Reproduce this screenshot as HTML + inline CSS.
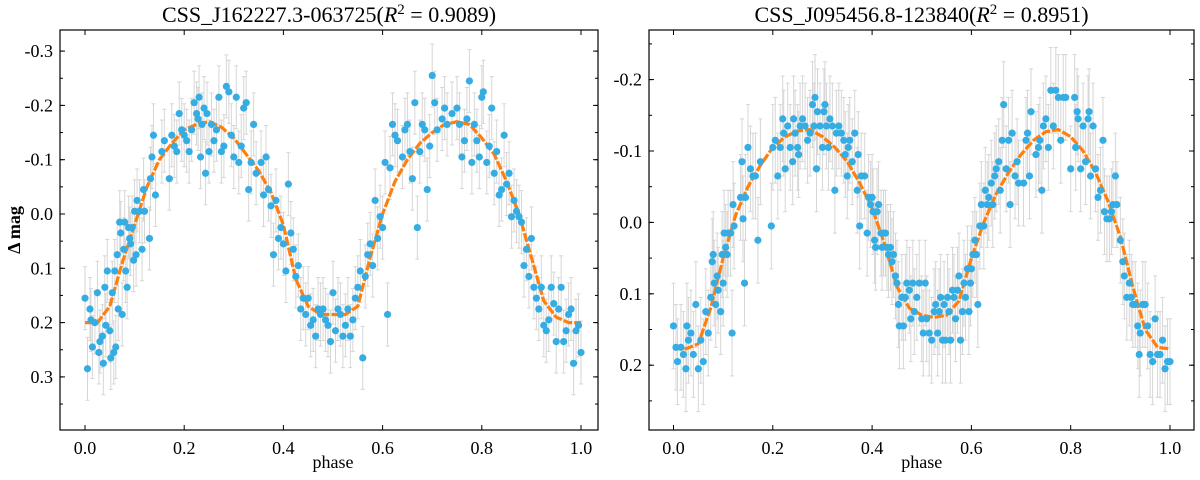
<!DOCTYPE html>
<html><head><meta charset="utf-8"><style>
body{margin:0;background:#fff;}
svg text{font-family:"Liberation Serif",serif;fill:#000;}
</style></head><body>
<svg id="chart" width="1200" height="475" viewBox="0 0 1200 475" xmlns="http://www.w3.org/2000/svg"></svg>
<script>
const xTicks=[0,0.2,0.4,0.6,0.8,1.0];
const xTickLabels=["0.0","0.2","0.4","0.6","0.8","1.0"];
const leftTitle="CSS_J162227.3-063725";
const leftR2="0.9089";
const leftYTicks=[-0.3,-0.2,-0.1,0,0.1,0.2,0.3];
const leftYTickLabels=["-0.3","-0.2","-0.1","0.0","0.1","0.2","0.3"];
const leftPhase=[0,0.005,0.01,0.012,0.015,0.02,0.025,0.028,0.03,0.035,0.037,0.04,0.042,0.045,0.05,0.052,0.055,0.058,0.06,0.062,0.065,0.067,0.07,0.072,0.075,0.078,0.08,0.082,0.085,0.088,0.09,0.092,0.095,0.098,0.1,0.103,0.105,0.11,0.115,0.118,0.12,0.13,0.132,0.135,0.138,0.142,0.155,0.16,0.17,0.175,0.18,0.185,0.19,0.195,0.2,0.205,0.21,0.215,0.22,0.225,0.228,0.23,0.233,0.236,0.24,0.243,0.246,0.25,0.255,0.26,0.265,0.27,0.275,0.28,0.285,0.29,0.295,0.3,0.305,0.31,0.315,0.32,0.325,0.33,0.335,0.34,0.345,0.355,0.36,0.365,0.37,0.375,0.38,0.385,0.39,0.395,0.4,0.405,0.41,0.415,0.42,0.425,0.43,0.435,0.44,0.445,0.45,0.455,0.46,0.465,0.47,0.475,0.48,0.485,0.49,0.495,0.5,0.505,0.51,0.515,0.52,0.525,0.53,0.535,0.54,0.545,0.55,0.555,0.56,0.565,0.57,0.575,0.58,0.585,0.59,0.595,0.6,0.605,0.61,0.615,0.62,0.625,0.63,0.64,0.645,0.65,0.655,0.66,0.665,0.67,0.675,0.68,0.685,0.69,0.695,0.7,0.705,0.71,0.72,0.725,0.73,0.74,0.75,0.755,0.76,0.765,0.77,0.775,0.78,0.785,0.79,0.795,0.8,0.803,0.81,0.815,0.82,0.825,0.83,0.835,0.84,0.845,0.85,0.855,0.86,0.865,0.87,0.875,0.88,0.885,0.89,0.895,0.9,0.905,0.91,0.915,0.92,0.925,0.93,0.935,0.94,0.945,0.95,0.955,0.96,0.965,0.97,0.975,0.98,0.985,0.99,0.995,1.0];
const leftMag=[0.155,0.285,0.175,0.195,0.245,0.2,0.145,0.255,0.235,0.225,0.275,0.135,0.205,0.105,0.215,0.265,0.145,0.255,0.105,0.245,0.075,0.175,0.015,0.035,0.185,0.065,0.015,0.105,0.135,0.025,0.045,0.055,0.025,0.085,-0.005,0.075,-0.025,-0.005,0.065,-0.045,-0.005,0.045,-0.065,-0.105,-0.145,-0.035,-0.115,-0.135,-0.065,-0.145,-0.125,-0.115,-0.185,-0.155,-0.145,-0.135,-0.115,-0.155,-0.205,-0.185,-0.175,-0.215,-0.105,-0.165,-0.195,-0.075,-0.185,-0.115,-0.165,-0.135,-0.155,-0.215,-0.115,-0.125,-0.235,-0.225,-0.145,-0.105,-0.215,-0.095,-0.125,-0.195,-0.205,-0.045,-0.095,-0.165,-0.075,-0.095,-0.035,-0.105,-0.045,-0.015,0.075,-0.025,0.045,0.025,0.055,0.105,-0.055,0.035,0.065,0.115,0.095,0.175,0.155,0.185,0.155,0.205,0.195,0.225,0.175,0.185,0.175,0.195,0.205,0.235,0.145,0.215,0.175,0.185,0.225,0.205,0.175,0.225,0.195,0.155,0.135,0.105,0.265,0.115,0.075,0.055,0.095,-0.025,0.045,0.005,0.025,-0.095,0.185,-0.085,-0.165,-0.145,-0.135,-0.105,-0.155,-0.165,-0.115,-0.065,-0.205,0.025,-0.115,-0.165,-0.155,-0.045,-0.125,-0.255,-0.205,-0.155,-0.175,-0.195,-0.165,-0.185,-0.195,-0.165,-0.105,-0.135,-0.175,-0.245,-0.095,-0.165,-0.135,-0.105,-0.215,-0.225,-0.095,-0.125,-0.195,-0.075,-0.115,-0.035,-0.045,-0.145,-0.055,-0.075,0.005,-0.025,-0.005,0.005,0.015,0.095,0.065,0.115,0.045,0.135,0.155,0.175,0.135,0.205,0.215,0.195,0.135,0.165,0.235,0.175,0.135,0.235,0.215,0.185,0.175,0.275,0.215,0.205,0.255];
const leftErr=0.058;
const leftFitPhase=[0,0.025,0.05,0.075,0.1,0.125,0.15,0.175,0.2,0.225,0.25,0.275,0.3,0.325,0.35,0.375,0.4,0.425,0.45,0.475,0.5,0.525,0.55,0.575,0.6,0.625,0.65,0.675,0.7,0.725,0.75,0.775,0.8,0.825,0.85,0.875,0.9,0.925,0.95,0.975,1.0];
const leftFitMag=[0.2,0.2,0.17,0.09,0.02,-0.05,-0.1,-0.13,-0.155,-0.165,-0.17,-0.16,-0.14,-0.11,-0.08,-0.04,0.02,0.12,0.17,0.185,0.185,0.185,0.17,0.08,0,-0.06,-0.1,-0.13,-0.15,-0.165,-0.17,-0.165,-0.14,-0.11,-0.06,0,0.08,0.16,0.19,0.2,0.2];

const rightTitle="CSS_J095456.8-123840";
const rightR2="0.8951";
const rightYTicks=[-0.2,-0.1,0,0.1,0.2];
const rightYTickLabels=["-0.2","-0.1","0.0","0.1","0.2"];
const rightPoints=[
[0.000,0.145],[0.005,0.175],[0.008,0.195],[0.015,0.175],[0.020,0.185],[0.025,0.205],[0.027,0.145],[0.030,0.165],[0.035,0.155],[0.040,0.185],
[0.045,0.115],[0.050,0.205],[0.055,0.165],[0.060,0.195],[0.065,0.125],[0.070,0.155],[0.075,0.105],[0.078,0.055],[0.080,0.045],[0.082,0.085],
[0.085,0.115],[0.088,0.075],[0.090,0.095],[0.095,0.125],[0.098,0.045],[0.100,0.085],[0.102,0.015],[0.105,0.035],[0.108,0.045],[0.110,0.015],
[0.115,0.015],[0.118,0.155],[0.120,-0.025],[0.122,0.005],[0.135,-0.035],[0.138,-0.085],[0.140,-0.005],[0.143,0.085],[0.145,-0.035],[0.150,-0.105],
[0.155,-0.075],[0.160,-0.065],[0.165,-0.065],[0.170,0.025],[0.175,-0.085],[0.197,0.005],[0.200,-0.105],[0.205,-0.115],[0.210,-0.065],[0.215,-0.105],
[0.220,-0.145],[0.222,-0.125],[0.225,-0.075],[0.230,-0.135],[0.235,-0.105],[0.240,-0.085],[0.242,-0.145],[0.245,-0.125],[0.250,-0.105],[0.252,-0.095],
[0.255,-0.135],[0.260,-0.145],[0.265,-0.135],[0.270,-0.115],[0.275,-0.125],[0.280,-0.165],[0.283,-0.135],[0.285,-0.175],[0.288,-0.075],[0.290,-0.155],
[0.295,-0.135],[0.300,-0.105],[0.303,-0.155],[0.305,-0.165],[0.308,-0.135],[0.312,-0.105],[0.315,-0.145],[0.320,-0.135],[0.325,-0.045],[0.328,-0.125],
[0.333,-0.135],[0.338,-0.125],[0.343,-0.115],[0.346,-0.095],[0.350,-0.065],[0.352,-0.105],[0.355,-0.115],[0.360,-0.085],[0.365,-0.125],[0.370,-0.045],
[0.372,-0.095],[0.375,0.005],[0.378,-0.065],[0.385,-0.065],[0.390,0.015],[0.393,-0.035],[0.397,-0.025],[0.400,-0.035],[0.402,-0.015],[0.405,0.025],
[0.407,0.035],[0.410,-0.015],[0.413,-0.025],[0.418,0.015],[0.420,0.035],[0.423,0.015],[0.427,0.015],[0.430,0.035],[0.433,0.045],[0.437,0.035],
[0.440,0.055],[0.443,0.045],[0.447,0.075],[0.450,0.085],[0.453,0.115],[0.455,0.145],[0.460,0.105],[0.463,0.145],[0.467,0.105],[0.470,0.085],
[0.475,0.095],[0.478,0.135],[0.482,0.085],[0.485,0.125],[0.490,0.105],[0.495,0.085],[0.500,0.135],[0.503,0.155],[0.507,0.085],[0.510,0.135],
[0.515,0.155],[0.520,0.165],[0.525,0.125],[0.528,0.115],[0.532,0.155],[0.535,0.125],[0.538,0.105],[0.542,0.165],[0.545,0.115],[0.548,0.165],
[0.552,0.105],[0.555,0.125],[0.558,0.165],[0.562,0.095],[0.565,0.105],[0.568,0.135],[0.572,0.095],[0.575,0.075],[0.578,0.165],[0.582,0.125],
[0.585,0.085],[0.588,0.105],[0.592,0.065],[0.595,0.125],[0.598,0.085],[0.600,0.065],[0.603,0.045],[0.607,0.025],[0.610,0.045],[0.613,0.115],
[0.617,0.005],[0.620,-0.025],[0.625,0.005],[0.628,-0.045],[0.632,-0.025],[0.635,-0.035],[0.640,-0.055],[0.643,-0.025],[0.647,-0.065],[0.650,-0.075],
[0.655,-0.085],[0.658,-0.045],[0.662,-0.115],[0.665,-0.165],[0.670,-0.075],[0.675,-0.115],[0.678,-0.025],[0.682,-0.125],[0.688,-0.065],[0.692,-0.085],
[0.695,-0.055],[0.705,-0.055],[0.710,-0.115],[0.713,-0.125],[0.717,-0.065],[0.720,-0.155],[0.730,-0.095],[0.735,-0.105],[0.738,-0.115],[0.742,-0.045],
[0.745,-0.135],[0.750,-0.145],[0.755,-0.105],[0.760,-0.185],[0.765,-0.135],[0.770,-0.185],[0.775,-0.175],[0.780,-0.115],[0.785,-0.175],[0.790,-0.175],
[0.800,-0.075],[0.808,-0.175],[0.810,-0.105],[0.813,-0.155],[0.815,-0.145],[0.820,-0.075],[0.825,-0.135],[0.830,-0.085],[0.835,-0.145],[0.837,-0.155],
[0.840,-0.065],[0.845,-0.135],[0.850,-0.075],[0.855,-0.035],[0.860,-0.045],[0.865,-0.115],[0.868,-0.015],[0.873,-0.005],[0.878,-0.005],[0.882,-0.015],
[0.885,-0.025],[0.890,-0.065],[0.893,-0.025],[0.900,0.025],[0.905,0.055],[0.908,0.075],[0.913,0.105],[0.918,0.085],[0.922,0.105],[0.925,0.115],
[0.930,0.115],[0.935,0.145],[0.938,0.185],[0.940,0.155],[0.945,0.115],[0.950,0.115],[0.955,0.145],[0.960,0.185],[0.965,0.195],[0.970,0.135],
[0.975,0.185],[0.980,0.185],[0.985,0.165],[0.990,0.205],[0.995,0.195],[1.000,0.195]];
const rightErr=0.06;
const rightFitPhase=[0,0.025,0.05,0.075,0.1,0.125,0.15,0.175,0.2,0.225,0.25,0.275,0.3,0.325,0.35,0.375,0.4,0.425,0.45,0.475,0.5,0.525,0.55,0.575,0.6,0.625,0.65,0.675,0.7,0.725,0.75,0.775,0.8,0.825,0.85,0.875,0.9,0.925,0.95,0.975,1.0];
const rightFitMag=[0.177,0.177,0.17,0.12,0.05,-0.01,-0.05,-0.08,-0.105,-0.12,-0.128,-0.13,-0.12,-0.105,-0.085,-0.055,-0.02,0.03,0.09,0.12,0.13,0.133,0.13,0.11,0.05,0,-0.04,-0.07,-0.095,-0.115,-0.127,-0.13,-0.12,-0.1,-0.07,-0.03,0.02,0.09,0.15,0.175,0.177];

const NS="http://www.w3.org/2000/svg";
const svg=document.getElementById('chart');
function mk(tag,attrs,parent){const e=document.createElementNS(NS,tag);for(const k in attrs)e.setAttribute(k,attrs[k]);(parent||svg).appendChild(e);return e;}

function panel(cfg){
  const g=mk('g',{});
  
  
  const L=cfg.box[0],R=cfg.box[1],T=30,B=430;
  const sx=v=>cfg.x0+(cfg.x1-cfg.x0)*v;
  const sy=v=>cfg.yZero+cfg.yPer*v/0.1;
  const eg=mk('g',{stroke:'#d6d6d6','stroke-width':1},g);
  
  
  cfg.phase.forEach((p,i)=>{
    const x=sx(p),y1=sy(cfg.mag[i]-cfg.err),y2=sy(cfg.mag[i]+cfg.err);
    mk('line',{x1:x,x2:x,y1:y1,y2:y2},eg);
    mk('line',{x1:x-2,x2:x+2,y1:y1,y2:y1},eg);
    mk('line',{x1:x-2,x2:x+2,y1:y2,y2:y2},eg);
  });
  const d=cfg.fitP.map((p,i)=>(i?'L':'M')+sx(p).toFixed(1)+','+sy(cfg.fitM[i]).toFixed(1)).join(' ');
  const fit=mk('path',{d:d,fill:'none',stroke:'#ff7f0e','stroke-width':3.2,'stroke-dasharray':'9,2','stroke-linejoin':'round'},g);
  
  
  const pg=mk('g',{fill:'#36ade2'},g);
  
  
  cfg.phase.forEach((p,i)=>{
    const c=mk('circle',{cx:sx(p),cy:sy(cfg.mag[i]),r:3.6},pg);
    
    
  });
  const fr=mk('rect',{x:L,y:T,width:R-L,height:B-T,fill:'none',stroke:'#000','stroke-width':1.2},g);
  
  
  const tg=mk('g',{stroke:'#000','stroke-width':1},g);
  
  
  xTicks.forEach((v,i)=>{
    const x=sx(v);
    mk('line',{x1:x,x2:x,y1:B,y2:B-5},tg);mk('line',{x1:x,x2:x,y1:T,y2:T+5},tg);
    const t=mk('text',{x:x,y:B+24,'text-anchor':'middle','font-size':18},g);t.textContent=xTickLabels[i];
    
    
  });
  cfg.yTicks.forEach((v,i)=>{
    const y=sy(v);
    mk('line',{x1:L,x2:L+5,y1:y,y2:y},tg);mk('line',{x1:R,x2:R-5,y1:y,y2:y},tg);
    const t=mk('text',{x:L-7,y:y+6,'text-anchor':'end','font-size':18},g);t.textContent=cfg.yLabels[i];
    
    
  });
  for(let v=-0.4;v<=0.4;v+=0.05){const y=sy(v);if(y>T+1&&y<B-1){mk('line',{x1:L,x2:L+3,y1:y,y2:y},tg);mk('line',{x1:R,x2:R-3,y1:y,y2:y},tg);}}
  const xl=mk('text',{x:sx(0.5),y:468,'text-anchor':'middle','font-size':18},g);xl.textContent='phase';
  
  
  const tt=mk('text',{x:(L+R)/2,y:22,'text-anchor':'middle','font-size':22},g);
  
  
  tt.innerHTML=cfg.title+'(<tspan font-style="italic">R</tspan><tspan dy="-8" font-size="15">2</tspan><tspan dy="8"> =  '+cfg.r2+')</tspan>';
}
panel({name:'left-panel',box:[60,598],x0:85,x1:581,yZero:214,yPer:54.3,phase:leftPhase,mag:leftMag,err:leftErr,fitP:leftFitPhase,fitM:leftFitMag,yTicks:leftYTicks,yLabels:leftYTickLabels,title:leftTitle,r2:leftR2});
panel({name:'right-panel',box:[649,1194],x0:673.5,x1:1170,yZero:222.4,yPer:71.4,phase:rightPoints.map(p=>p[0]),mag:rightPoints.map(p=>p[1]),err:rightErr,fitP:rightFitPhase,fitM:rightFitMag,yTicks:rightYTicks,yLabels:rightYTickLabels,title:rightTitle,r2:rightR2});
const yl=mk('text',{x:0,y:0,'text-anchor':'middle','font-size':18,'font-weight':'bold',transform:'translate(20,230) rotate(-90)'});
yl.textContent='Δ mag';


</script>
</body></html>
